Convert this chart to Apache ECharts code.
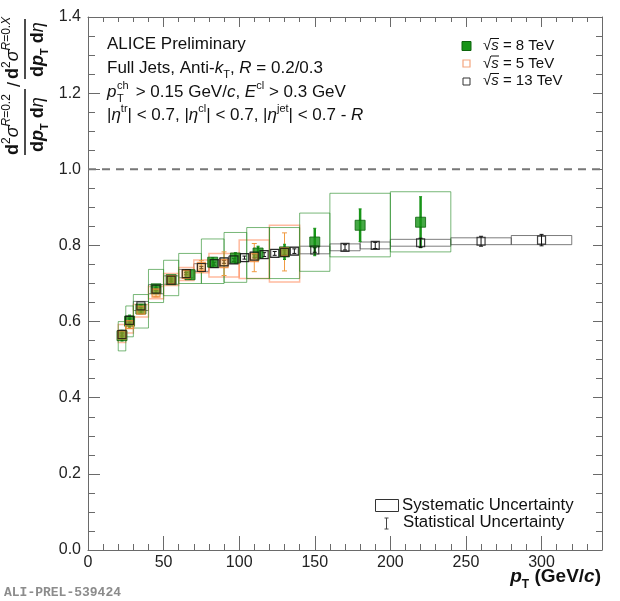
<!DOCTYPE html>
<html>
<head>
<meta charset="utf-8">
<script src="https://cdn.jsdelivr.net/npm/echarts@6/dist/echarts.min.js"></script>
<style>
  html, body { margin: 0; padding: 0; background: #fff; }
  #chart { width: 620px; height: 601px; }
</style>
</head>
<body>
<div id="chart"></div>
<script>
// sqrt(s) = 8 TeV
const binLo8 = [20, 25, 30, 40, 50, 60, 75, 90, 105, 120, 140, 160, 200];
const binHi8 = [25, 30, 40, 50, 60, 75, 90, 105, 120, 140, 160, 200, 240];
const pt8 = [22.5, 27.5, 35, 45, 55, 67.5, 82.5, 97.5, 112.5, 130, 150, 180, 220];
const ratio8 = [0.563, 0.601, 0.633, 0.686, 0.710, 0.723, 0.756, 0.767, 0.780, 0.783, 0.809, 0.853, 0.861];
const stat8 = [0.014, 0.016, 0.012, 0.010, 0.010, 0.012, 0.012, 0.014, 0.018, 0.020, 0.036, 0.043, 0.067];
const sysLo8 = [0.523, 0.560, 0.583, 0.650, 0.668, 0.700, 0.700, 0.703, 0.713, 0.713, 0.732, 0.770, 0.783];
const sysHi8 = [0.600, 0.641, 0.671, 0.737, 0.761, 0.779, 0.817, 0.834, 0.847, 0.847, 0.885, 0.937, 0.941];

// sqrt(s) = 5 TeV
const binLo5 = [20, 25, 30, 40, 50, 60, 70, 80, 100, 120];
const binHi5 = [25, 30, 40, 50, 60, 70, 80, 100, 120, 140];
const pt5 = [22.5, 27.5, 35, 45, 55, 65, 75, 90, 110, 130];
const ratio5 = [0.565, 0.592, 0.630, 0.675, 0.710, 0.724, 0.745, 0.752, 0.768, 0.783];
const stat5 = [0.010, 0.010, 0.010, 0.010, 0.010, 0.012, 0.015, 0.031, 0.037, 0.050];
const sysLo5 = [0.545, 0.570, 0.612, 0.660, 0.695, 0.708, 0.728, 0.717, 0.713, 0.704];
const sysHi5 = [0.592, 0.612, 0.645, 0.692, 0.726, 0.742, 0.762, 0.779, 0.814, 0.853];

// sqrt(s) = 13 TeV
const binLo13 = [20, 25, 30, 40, 50, 60, 70, 80, 87, 93, 100, 107, 113, 120, 127, 133, 140, 160, 180, 200, 240, 280];
const binHi13 = [25, 30, 40, 50, 60, 70, 80, 87, 93, 100, 107, 113, 120, 127, 133, 140, 160, 180, 200, 240, 280, 320];
const pt13 = [22.5, 27.5, 35, 45, 55, 65, 75, 83.5, 90, 96.5, 103.5, 110, 116.5, 123.5, 130, 136.5, 150, 170, 190, 220, 260, 300];
const ratio13 = [0.566, 0.603, 0.641, 0.685, 0.709, 0.726, 0.742, 0.752, 0.757, 0.762, 0.768, 0.772, 0.776, 0.779, 0.782, 0.785, 0.788, 0.795, 0.800, 0.807, 0.811, 0.814];
const stat13 = [0.004, 0.004, 0.003, 0.003, 0.003, 0.003, 0.003, 0.004, 0.004, 0.004, 0.004, 0.005, 0.005, 0.005, 0.006, 0.006, 0.006, 0.007, 0.008, 0.012, 0.013, 0.015];
const sys13 = [0.012, 0.012, 0.012, 0.012, 0.011, 0.011, 0.010, 0.010, 0.010, 0.010, 0.010, 0.010, 0.010, 0.010, 0.010, 0.010, 0.010, 0.009, 0.009, 0.009, 0.009, 0.012];

const refLine = [[0, 1], [340, 1]];

const FONT = '"Liberation Sans", Arial, Helvetica, sans-serif';
const AXIS = '#6a6a6a';
const GREEN = '#179417';

// rich text token styles
function tok(size, extra) {
  return Object.assign({ fontSize: size, fontFamily: FONT, fill: '#111', verticalAlign: 'middle', lineHeight: Math.round(size * 1.4) }, extra || {});
}
const ann = {
  n: tok(17),
  i: tok(17, { fontStyle: 'italic' }),
  sup: tok(11, { verticalAlign: 'top', lineHeight: 11 }),
  sub: tok(11, { verticalAlign: 'bottom', lineHeight: 11 })
};
const leg = {
  n: tok(15),
  i: tok(15, { fontStyle: 'italic' })
};
const unc = { n: tok(16.8) };
const ylab = {
  b: tok(18, { fontWeight: 'bold' }),
  bi: tok(18, { fontWeight: 'bold', fontStyle: 'italic' }),
  i: tok(18, { fontStyle: 'italic' }),
  n: tok(18),
  sup: tok(12, { verticalAlign: 'top', lineHeight: 12 }),
  supi: tok(12, { verticalAlign: 'top', lineHeight: 12, fontStyle: 'italic' }),
  sub: tok(11, { verticalAlign: 'bottom', lineHeight: 11, fontWeight: 'bold' })
};
const xlab = {
  b: tok(19, { fontWeight: 'bold' }),
  bi: tok(19, { fontWeight: 'bold', fontStyle: 'italic' }),
  sub: tok(12, { verticalAlign: 'bottom', lineHeight: 12, fontWeight: 'bold' })
};

function txt(x, y, text, rich, align) {
  return {
    type: 'text', x: x, y: y,
    style: { text: text, rich: rich, align: align || 'left', verticalAlign: 'middle', textAlign: align || 'left', textVerticalAlign: 'middle', fill: '#111' }
  };
}
function seg(x1, y1, x2, y2, color, w) {
  return { type: 'line', shape: { x1: x1, y1: y1, x2: x2, y2: y2 }, style: { stroke: color || '#111', lineWidth: w || 1 } };
}

function boxRenderer(stroke, width) {
  return function (params, api) {
    const a = api.coord([api.value(0), api.value(3)]);
    const b = api.coord([api.value(1), api.value(2)]);
    return {
      type: 'rect',
      shape: { x: a[0], y: a[1], width: b[0] - a[0], height: b[1] - a[1] },
      style: { fill: 'none', stroke: stroke, lineWidth: width }
    };
  };
}
function barRenderer(stroke, width, cap) {
  return function (params, api) {
    const top = api.coord([api.value(0), api.value(2)]);
    const bot = api.coord([api.value(0), api.value(1)]);
    const kids = [seg(top[0], top[1], bot[0], bot[1], stroke, width)];
    if (cap) {
      kids.push(seg(top[0] - cap, top[1], top[0] + cap, top[1], stroke, 1));
      kids.push(seg(bot[0] - cap, bot[1], bot[0] + cap, bot[1], stroke, 1));
    }
    return { type: 'group', children: kids };
  };
}

const boxes8 = binLo8.map((lo, i) => [lo, binHi8[i], sysLo8[i], sysHi8[i]]);
const boxes5 = binLo5.map((lo, i) => [lo, binHi5[i], sysLo5[i], sysHi5[i]]);
const boxes13 = binLo13.map((lo, i) => [lo, binHi13[i], ratio13[i] - sys13[i], ratio13[i] + sys13[i]]);
const bars8 = pt8.map((x, i) => [x, ratio8[i] - stat8[i], ratio8[i] + stat8[i]]);
const bars5 = pt5.map((x, i) => [x, ratio5[i] - stat5[i], ratio5[i] + stat5[i]]);
const bars13 = pt13.map((x, i) => [x, ratio13[i] - stat13[i], ratio13[i] + stat13[i]]);

// onZero must be off, otherwise the top/right axes get pulled to the zero line
function xAxisDef(grid, pos, interval, tickLen, withLine, labels) {
  return {
    type: 'value', gridIndex: grid, position: pos, min: 0, max: 340, interval: interval,
    axisLine: { show: withLine, onZero: false, lineStyle: { color: AXIS, width: 1 } },
    axisTick: { show: true, inside: true, length: tickLen, lineStyle: { color: AXIS } },
    axisLabel: { show: labels, fontSize: 16, fontFamily: FONT, color: '#222', margin: 5, showMaxLabel: false },
    splitLine: { show: false }
  };
}
function yAxisDef(pos, tickLen, minorLen, labels) {
  return {
    type: 'value', gridIndex: 0, position: pos, min: 0, max: 1.4, interval: 0.2,
    axisLine: { show: true, onZero: false, lineStyle: { color: AXIS, width: 1 } },
    axisTick: { show: true, inside: true, length: tickLen, lineStyle: { color: AXIS } },
    minorTick: { show: true, splitNumber: 4, length: minorLen, lineStyle: { color: AXIS } },
    axisLabel: { show: labels, fontSize: 16, fontFamily: FONT, color: '#222', margin: 7, formatter: v => v.toFixed(1) },
    splitLine: { show: false }
  };
}

const chart = echarts.init(document.getElementById('chart'), null, { renderer: 'canvas' });

const option = {
  animation: false,
  backgroundColor: '#fff',
  grid: [
    { left: 88, right: 18, top: 17, bottom: 51 },
    { left: 88, right: 18, top: 17, bottom: 51 }
  ],
  xAxis: [
    xAxisDef(0, 'bottom', 50, 14, true, true),
    xAxisDef(0, 'top', 50, 10, true, false),
    xAxisDef(1, 'bottom', 10, 6, false, false),
    xAxisDef(1, 'top', 10, 5, false, false)
  ],
  yAxis: [
    yAxisDef('left', 12, 7, true),
    yAxisDef('right', 9, 6, false),
    { type: 'value', gridIndex: 1, min: 0, max: 1.4, show: false, axisLine: { onZero: false } }
  ],
  series: [
    {
      type: 'line', data: refLine, symbol: 'none', silent: true,
      lineStyle: { color: '#777', width: 2, type: [8, 6] }
    },
    { type: 'custom', name: 'sys13', data: boxes13, encode: { x: [0, 1], y: [2, 3] }, renderItem: boxRenderer('rgba(70,70,70,0.7)', 1) },
    { type: 'custom', name: 'sys5', data: boxes5, encode: { x: [0, 1], y: [2, 3] }, renderItem: boxRenderer('rgba(255,140,95,0.6)', 1.5) },
    { type: 'custom', name: 'sys8', data: boxes8, encode: { x: [0, 1], y: [2, 3] }, renderItem: boxRenderer('rgba(30,135,30,0.6)', 1) },
    { type: 'custom', name: 'stat5', data: bars5, encode: { x: 0, y: [1, 2] }, renderItem: barRenderer('#f09a40', 1, 2.5) },
    { type: 'custom', name: 'stat8', data: bars8, encode: { x: 0, y: [1, 2] }, renderItem: barRenderer(GREEN, 2.5, 1.5) },
    {
      type: 'scatter', name: '8 TeV', data: pt8.map((x, i) => [x, ratio8[i]]),
      symbol: 'rect', symbolSize: 10,
      itemStyle: { color: GREEN, borderColor: '#0c640c', borderWidth: 1 }
    },
    {
      type: 'scatter', name: '5 TeV', data: pt5.map((x, i) => [x, ratio5[i]]),
      symbol: 'rect', symbolSize: 8,
      itemStyle: { color: 'rgba(240,160,60,0.55)', borderColor: '#f08a3c', borderWidth: 1.3 }
    },
    { type: 'custom', name: 'stat13', data: bars13, encode: { x: 0, y: [1, 2] }, renderItem: barRenderer('#111', 1, 2) },
    {
      type: 'scatter', name: '13 TeV', data: pt13.map((x, i) => [x, ratio13[i]]),
      symbol: 'rect', symbolSize: 8,
      itemStyle: { color: 'rgba(255,255,255,0)', borderColor: '#111', borderWidth: 1.2 }
    }
  ],
  graphic: [
    // annotation block
    txt(107, 44, '{n|ALICE Preliminary}', ann),
    txt(107, 68, '{n|Full Jets, Anti-}{i|k}{sub|T}{n|, }{i|R}{n| = 0.2/0.3}', ann),
    txt(107, 92, '{i|p}', ann),
    txt(117, 86, '{sup|ch}', { sup: tok(11, { lineHeight: 11 }) }),
    txt(117, 99, '{sub|T}', { sub: tok(11, { lineHeight: 11 }) }),
    txt(131, 92, '{n| > 0.15 GeV/}{i|c}{n|, }{i|E}{sup|cl}{n| > 0.3 GeV}', ann),
    txt(107, 115, '{n||}{i|η}{sup|tr}{n|| < 0.7, |}{i|η}{sup|cl}{n|| < 0.7, |}{i|η}{sup|jet}{n|| < 0.7 - }{i|R}', ann),

    // energy legend
    { type: 'rect', shape: { x: 462, y: 41.5, width: 9, height: 9 }, style: { fill: GREEN, stroke: '#0c640c', lineWidth: 1 } },
    { type: 'rect', shape: { x: 463, y: 60, width: 7, height: 7 }, style: { fill: '#fff', stroke: '#f4a57e', lineWidth: 1.2 } },
    { type: 'rect', shape: { x: 463, y: 78, width: 7, height: 7 }, style: { fill: '#fff', stroke: '#333', lineWidth: 1 } },
    txt(483, 46, '{n|√}{i|s}{n| = 8 TeV}', leg),
    txt(483, 63.5, '{n|√}{i|s}{n| = 5 TeV}', leg),
    txt(483, 81, '{n|√}{i|s}{n| = 13 TeV}', leg),
    seg(491, 38.5, 499, 38.5, '#111', 1),
    seg(491, 56, 499, 56, '#111', 1),
    seg(491, 73.5, 499, 73.5, '#111', 1),

    // uncertainty legend
    { type: 'rect', shape: { x: 375.5, y: 499.5, width: 23, height: 12 }, style: { fill: 'none', stroke: '#333', lineWidth: 1 } },
    txt(402, 505, '{n|Systematic Uncertainty}', unc),
    seg(386.5, 518, 386.5, 529, '#444', 1),
    seg(384.5, 518, 388.5, 518, '#444', 1),
    seg(384.5, 529, 388.5, 529, '#444', 1),
    txt(403, 522.5, '{n|Statistical Uncertainty}', unc),

    // x axis title
    txt(601, 577, '{bi|p}{sub|T}{b| (GeV/}{bi|c}{b|)}', xlab, 'right'),

    // y axis title, rotated to read bottom to top
    {
      type: 'group', x: 0, y: 157, rotation: Math.PI / 2,
      children: [
        txt(2, 13, '{b|d}{sup|2}{i|σ}{supi|R}{sup|=0.2}', ylab),
        seg(2, 25, 68, 25, '#111', 1.5),
        txt(5, 38, '{b|d}{bi|p}{sub|T}{b| d}{i|η}', ylab),
        txt(70, 15, '{n|/}', ylab),
        txt(78, 13, '{b|d}{sup|2}{i|σ}{supi|R}{sup|=0.}{supi|X}', ylab),
        seg(78, 25, 138, 25, '#111', 1.5),
        txt(80, 38, '{b|d}{bi|p}{sub|T}{b| d}{i|η}', ylab)
      ]
    },

    // preliminary tag
    {
      type: 'text', x: 4, y: 593,
      style: { text: 'ALI-PREL-539424', font: 'bold 13px "Liberation Mono", "DejaVu Sans Mono", monospace', fill: '#8c8c8c', verticalAlign: 'middle', textVerticalAlign: 'middle' }
    }
  ]
};

chart.setOption(option);
</script>
</body>
</html>
